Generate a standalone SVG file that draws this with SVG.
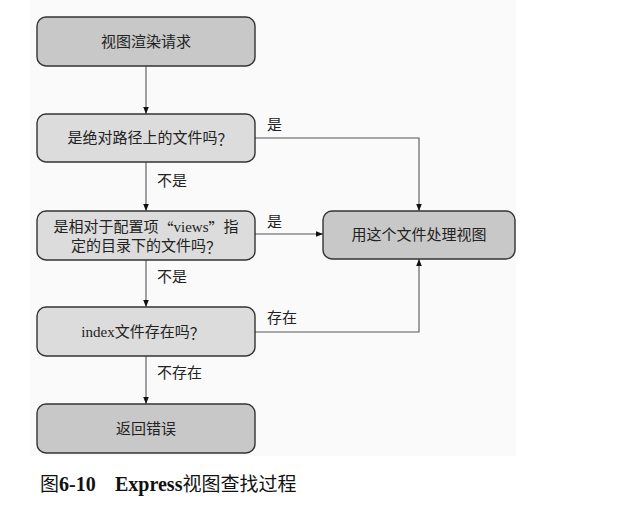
<svg xmlns="http://www.w3.org/2000/svg" width="632" height="506" viewBox="0 0 632 506">
<defs>
<style>
.proc{fill:#c8c8c8;stroke:#333;stroke-width:1.4}
.dec{fill:#dcdcdc;stroke:#333;stroke-width:1.4}
.t{font-family:"Liberation Serif","Noto Sans CJK SC",serif;font-size:15px;fill:#222;text-anchor:middle;dominant-baseline:central}
.l{font-family:"Liberation Serif","Noto Sans CJK SC",serif;font-size:15px;fill:#222;dominant-baseline:central}
.cj{font-family:"Noto Sans CJK SC",sans-serif}
.c{fill:none;stroke:#555;stroke-width:1.1}
.cap{font-family:"Liberation Serif","Noto Sans CJK SC",serif;font-size:19px;fill:#111}
</style>
<marker id="ah" viewBox="0 0 10 10" refX="10" refY="5" markerWidth="7" markerHeight="7" markerUnits="userSpaceOnUse" orient="auto">
<path d="M0,1 L10,5 L0,9 z" fill="#111"/>
</marker>
</defs>
<rect x="0" y="0" width="632" height="506" fill="#fff"/>
<rect x="30" y="0" width="486" height="456" fill="#fafafa"/>
<g id="connectors">
<path class="c" d="M146,66 V114" marker-end="url(#ah)"/>
<path class="c" d="M146,162 V211" marker-end="url(#ah)"/>
<path class="c" d="M146,260 V307" marker-end="url(#ah)"/>
<path class="c" d="M146,356 V404" marker-end="url(#ah)"/>
<path class="c" d="M255,138 H419 V211" marker-end="url(#ah)"/>
<path class="c" d="M255,234 H323" marker-end="url(#ah)"/>
<path class="c" d="M255,332 H419 V259" marker-end="url(#ah)"/>
<text class="l" x="267" y="125">是</text>
<text class="l" x="267" y="222">是</text>
<text class="l" x="267" y="318">存在</text>
<text class="l" x="157" y="181">不是</text>
<text class="l" x="157" y="277">不是</text>
<text class="l" x="157" y="373">不存在</text>
</g>
<g id="n1">
<rect class="proc" x="37" y="17" width="218" height="49" rx="9"/>
<text class="t" x="146" y="41.5">视图渲染请求</text>
</g>
<g id="n2">
<rect class="dec" x="37" y="114" width="218" height="48" rx="9"/>
<text class="t" x="150" y="138">是绝对路径上的文件吗<tspan class="cj">？</tspan></text>
</g>
<g id="n3">
<rect class="dec" x="37" y="211" width="218" height="49" rx="9"/>
<text class="t" x="146" y="227">是相对于配置项<tspan class="cj">“</tspan>views<tspan class="cj">”</tspan>指</text>
<text class="t" x="146" y="246">定的目录下的文件吗<tspan class="cj">？</tspan></text>
</g>
<g id="n4">
<rect class="dec" x="37" y="307" width="218" height="49" rx="9"/>
<text class="t" x="143" y="332">index文件存在吗<tspan class="cj">？</tspan></text>
</g>
<g id="n5">
<rect class="proc" x="37" y="404" width="218" height="49" rx="9"/>
<text class="t" x="146" y="428.5">返回错误</text>
</g>
<g id="n6">
<rect class="proc" x="323" y="211" width="192" height="48" rx="9"/>
<text class="t" x="419" y="235">用这个文件处理视图</text>
</g>
<text class="cap" x="40" y="491">图<tspan font-weight="bold" font-size="20">6-10</tspan><tspan x="115" font-weight="bold" font-size="20">Express</tspan>视图查找过程</text>
</svg>
